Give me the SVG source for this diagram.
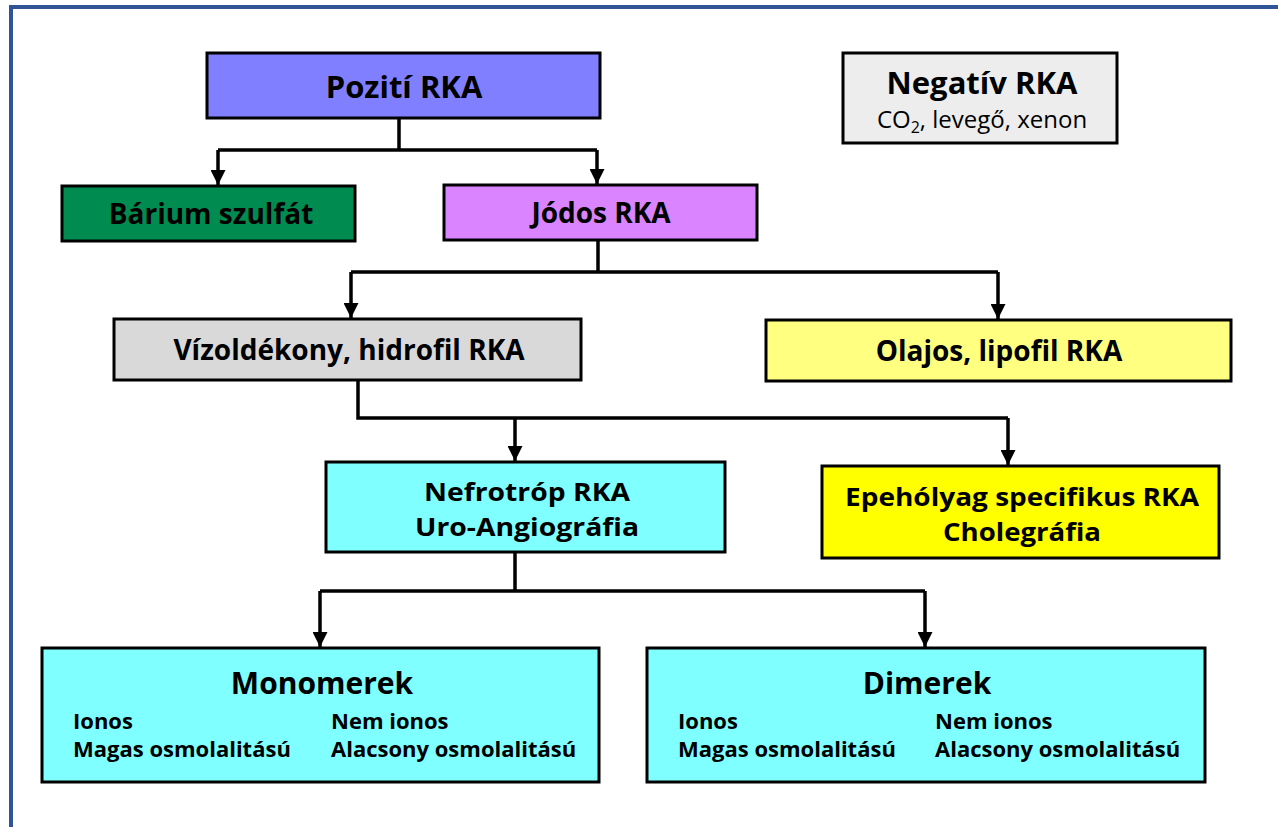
<svg xmlns="http://www.w3.org/2000/svg" width="1278" height="827" viewBox="0 0 1278 827">
<defs>
<marker id="arr" viewBox="0 0 10 10" refX="10" refY="5" markerWidth="15" markerHeight="15" markerUnits="userSpaceOnUse" orient="auto">
<path d="M0,0 L10,5 L0,10 z" fill="#000"/>
</marker>
<style>
.box{stroke:#000;stroke-width:3}
.t{font-family:"Open Sans","Liberation Sans",sans-serif;font-weight:700;fill:#000;text-anchor:middle}
.s{font-family:"Open Sans","Liberation Sans",sans-serif;font-weight:700;fill:#000}
.r{font-family:"Open Sans","Liberation Sans",sans-serif;font-weight:400;fill:#000;text-anchor:middle}
.c{fill:none;stroke:#000;stroke-width:3.5}
</style>
</defs>
<rect width="1278" height="827" fill="#fff"/>
<rect x="11" y="7" width="1290" height="840" fill="none" stroke="#2F5597" stroke-width="4"/>
<g id="connectors">
<path class="c" d="M399,118 V150 M218,150 H597"/>
<path class="c" d="M218,150 V185" marker-end="url(#arr)"/>
<path class="c" d="M597,150 V184" marker-end="url(#arr)"/>
<path class="c" d="M598,240 V272 M351,272 H998"/>
<path class="c" d="M351,272 V318" marker-end="url(#arr)"/>
<path class="c" d="M998,272 V319" marker-end="url(#arr)"/>
<path class="c" d="M358,380 V418 H1008"/>
<path class="c" d="M515,418 V461" marker-end="url(#arr)"/>
<path class="c" d="M1008,418 V465" marker-end="url(#arr)"/>
<path class="c" d="M515,552 V591 M320,591 H925"/>
<path class="c" d="M320,591 V647" marker-end="url(#arr)"/>
<path class="c" d="M925,591 V647" marker-end="url(#arr)"/>
</g>
<g id="pozitiv">
<rect class="box" x="207" y="53" width="393" height="65" fill="#7F7FFF"/>
<text class="t" x="404" y="98" font-size="31">Pozití RKA</text>
</g>
<g id="negativ">
<rect class="box" x="843" y="53" width="274" height="90" fill="#EDEDED"/>
<text class="t" x="982" y="94" font-size="31">Negatív RKA</text>
<text class="r" x="982" y="128" font-size="24">CO<tspan font-size="16" dy="5">2</tspan><tspan dy="-5">, levegő, xenon</tspan></text>
</g>
<g id="barium">
<rect class="box" x="62" y="186" width="293" height="55" fill="#008C50"/>
<text class="t" x="211" y="224" font-size="28">Bárium szulfát</text>
</g>
<g id="jodos">
<rect class="box" x="444" y="185" width="313" height="55" fill="#DA85FF"/>
<text class="t" x="601" y="223" font-size="28">Jódos RKA</text>
</g>
<g id="vizoldekony">
<rect class="box" x="114" y="319" width="467" height="61" fill="#D9D9D9"/>
<text class="t" x="349" y="360" font-size="28">Vízoldékony, hidrofil RKA</text>
</g>
<g id="olajos">
<rect class="box" x="766" y="320" width="465" height="61" fill="#FFFF80"/>
<text class="t" x="999" y="361" font-size="28">Olajos, lipofil RKA</text>
</g>
<g id="nefrotrop">
<rect class="box" x="326" y="462" width="399" height="90" fill="#7FFFFF"/>
<text class="t" x="527" y="501" font-size="25.5" textLength="206" lengthAdjust="spacingAndGlyphs">Nefrotróp RKA</text>
<text class="t" x="527" y="536" font-size="25.5" textLength="224" lengthAdjust="spacingAndGlyphs">Uro-Angiográfia</text>
</g>
<g id="epeholyag">
<rect class="box" x="822" y="466" width="397" height="92" fill="#FFFF00"/>
<text class="t" x="1022" y="506" font-size="25.5" textLength="354" lengthAdjust="spacingAndGlyphs">Epehólyag specifikus RKA</text>
<text class="t" x="1022" y="541" font-size="25.5" textLength="158" lengthAdjust="spacingAndGlyphs">Cholegráfia</text>
</g>
<g id="monomerek">
<rect class="box" x="42" y="648" width="557" height="134" fill="#7FFFFF"/>
<text class="t" x="322" y="694" font-size="30">Monomerek</text>
<text class="s" x="73" y="729" font-size="22">Ionos</text>
<text class="s" x="73" y="757" font-size="22">Magas osmolalitású</text>
<text class="s" x="331" y="729" font-size="22">Nem ionos</text>
<text class="s" x="331" y="757" font-size="22">Alacsony osmolalitású</text>
</g>
<g id="dimerek">
<rect class="box" x="647" y="648" width="558" height="134" fill="#7FFFFF"/>
<text class="t" x="927" y="694" font-size="30">Dimerek</text>
<text class="s" x="678" y="729" font-size="22">Ionos</text>
<text class="s" x="678" y="757" font-size="22">Magas osmolalitású</text>
<text class="s" x="935" y="729" font-size="22">Nem ionos</text>
<text class="s" x="935" y="757" font-size="22">Alacsony osmolalitású</text>
</g>
</svg>
